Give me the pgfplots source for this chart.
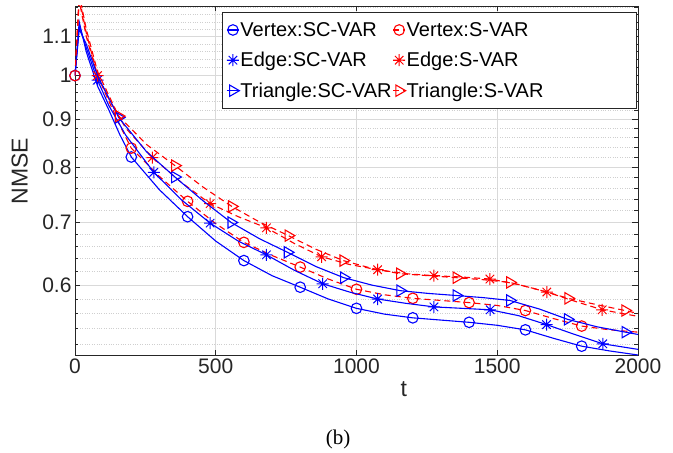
\documentclass[border=0pt]{standalone}
\usepackage{fontspec}
\setmainfont{Liberation Sans}
\newfontfamily\capfont{Liberation Serif}
\usepackage{pgfplots}
\pgfplotsset{compat=1.18}

\definecolor{axcol}{RGB}{38,38,38}
\definecolor{mblue}{RGB}{0,0,255}
\definecolor{mred}{RGB}{255,0,0}

% matlab style asterisk (+ and x)
\pgfdeclareplotmark{mstar}{%
  \pgfpathmoveto{\pgfqpoint{0pt}{\pgfplotmarksize}}%
  \pgfpathlineto{\pgfqpoint{0pt}{-\pgfplotmarksize}}%
  \pgfpathmoveto{\pgfqpoint{\pgfplotmarksize}{0pt}}%
  \pgfpathlineto{\pgfqpoint{-\pgfplotmarksize}{0pt}}%
  \pgfpathmoveto{\pgfqpoint{0.707\pgfplotmarksize}{0.707\pgfplotmarksize}}%
  \pgfpathlineto{\pgfqpoint{-0.707\pgfplotmarksize}{-0.707\pgfplotmarksize}}%
  \pgfpathmoveto{\pgfqpoint{-0.707\pgfplotmarksize}{0.707\pgfplotmarksize}}%
  \pgfpathlineto{\pgfqpoint{0.707\pgfplotmarksize}{-0.707\pgfplotmarksize}}%
  \pgfusepathqstroke}

\begin{document}
\begin{tikzpicture}
\path[use as bounding box] (-75pt,-98pt) rectangle (598pt,355pt);
\begin{axis}[
  at={(0,0)}, anchor=south west,
  scale only axis, width=563pt, height=349pt,
  xmin=0, xmax=2000, ymin=0.506, ymax=1.185,
  ymode=log,
  xtick={0,500,1000,1500,2000}, xticklabels={0,500,1000,1500,2000},
  ytick={0.6,0.7,0.8,0.9,1,1.1}, yticklabels={0.6,0.7,0.8,0.9,1,1.1},
  minor ytick={0.52,0.54,0.56,0.58,0.62,0.64,0.66,0.68,0.72,0.74,0.76,0.78,0.82,0.84,0.86,0.88,0.92,0.94,0.96,0.98,1.02,1.04,1.06,1.08,1.12,1.14,1.16,1.18},
  minor x tick num=0,
  tick align=inside, tick pos=both,
  major tick length=5.5pt, minor tick length=3.5pt,
  every tick/.style={axcol, line width=0.5pt},
  axis line style={axcol, line width=0.6pt},
  xmajorgrids, ymajorgrids, yminorgrids,
  major grid style={gray!30, line width=0.5pt},
  minor grid style={gray!38, dotted, line width=0.5pt},
  tick label style={font=\fontsize{21}{25}\selectfont, text=axcol},
  xlabel={t}, ylabel={NMSE},
  xlabel style={at={(axis description cs:0.584,-0.097)}, anchor=center, font=\fontsize{23}{27}\selectfont, text=axcol},
  ylabel style={at={(axis description cs:-0.098,0.527)}, anchor=center, font=\fontsize{23}{27}\selectfont, text=axcol},
  clip mode=individual,
  legend columns=2, legend cell align=left,
  legend style={at={(rel axis cs:1,1)}, anchor=north east, xshift=-1pt, yshift=-6pt,
    draw=axcol, line width=0.5pt, fill=white, font=\fontsize{20}{24}\selectfont,
    inner xsep=4pt, inner ysep=8pt, row sep=10.5pt,
    nodes={inner xsep=1pt}},
  legend image code/.code={\draw[#1, mark indices={2}] plot coordinates {(-6pt,0pt) (0pt,0pt) (6pt,0pt)};},
]
% Vertex SC-VAR
\addplot[mblue, line width=1.1pt, mark=o, mark size=5.3pt, mark indices={1,7,9,11,13,15,17,19,21,23}] coordinates {
(0,1.0) (15,1.14) (40,1.06) (80,0.975) (120,0.92) (160,0.865) (200,0.820) (300,0.757) (400,0.709) (500,0.668) (600,0.637) (700,0.614) (800,0.597) (900,0.580) (1000,0.567) (1100,0.559) (1200,0.554) (1300,0.551) (1400,0.548) (1500,0.544) (1600,0.538) (1700,0.527) (1800,0.517) (1900,0.511) (2000,0.506)};
\addlegendentry{Vertex:SC-VAR}
% Vertex S-VAR (the point above ymax is not counted by mark indices)
\addplot[mred, line width=1.1pt, dash pattern=on 6pt off 4pt, mark=o, mark size=5.3pt, mark options={solid}, mark indices={1,6,8,10,12,14,16,18,20,22}] coordinates {
(0,1.0) (15,1.20) (40,1.10) (80,1.0) (120,0.94) (160,0.885) (200,0.838) (300,0.782) (400,0.736) (500,0.697) (600,0.666) (700,0.645) (800,0.627) (900,0.609) (1000,0.594) (1100,0.586) (1200,0.581) (1300,0.578) (1400,0.575) (1500,0.571) (1600,0.564) (1700,0.553) (1800,0.543) (1900,0.538) (2000,0.535)};
\addlegendentry{\makebox[225pt][l]{Vertex:S-VAR}}
% Edge SC-VAR
\addplot[mblue, line width=1.1pt, mark=mstar, mark size=6pt, mark options={line width=1pt}, mark indices={4,7,9,11,13,15,17,19,21,23}] coordinates {
(0,1.0) (15,1.13) (40,1.07) (80,0.989) (120,0.93) (180,0.865) (280,0.790) (380,0.738) (480,0.698) (580,0.668) (680,0.646) (780,0.622) (880,0.602) (975,0.590) (1075,0.580) (1175,0.574) (1275,0.569) (1375,0.567) (1475,0.565) (1575,0.557) (1675,0.545) (1775,0.532) (1875,0.520) (2000,0.513)};
\addlegendentry{Edge:SC-VAR}
% Edge S-VAR
\addplot[mred, line width=1.1pt, dash pattern=on 6pt off 4pt, mark=mstar, mark size=6pt, mark options={solid, line width=1pt}, mark indices={3,6,8,10,12,14,16,18,20,22}] coordinates {
(0,1.0) (15,1.21) (40,1.11) (80,1.0) (120,0.945) (180,0.880) (275,0.819) (380,0.770) (480,0.732) (580,0.709) (680,0.690) (780,0.664) (876,0.643) (975,0.631) (1075,0.623) (1175,0.617) (1275,0.614) (1375,0.612) (1474,0.609) (1575,0.601) (1676,0.590) (1775,0.577) (1873,0.565) (2000,0.556)};
\addlegendentry{Edge:S-VAR}
% Triangle SC-VAR
\addplot[mblue, line width=1.1pt, mark=triangle, mark size=6.5pt, mark options={rotate=-90}, mark indices={5,7,9,11,13,15,17,19,21,23}] coordinates {
(0,1.0) (15,1.12) (40,1.08) (80,1.0) (155,0.903) (255,0.830) (355,0.781) (455,0.737) (555,0.699) (655,0.672) (755,0.650) (855,0.628) (955,0.611) (1055,0.600) (1155,0.592) (1255,0.588) (1355,0.585) (1450,0.582) (1545,0.578) (1650,0.566) (1750,0.552) (1855,0.542) (1955,0.535) (2000,0.532)};
\addlegendentry{Triangle:SC-VAR}
% Triangle S-VAR
\addplot[mred, line width=1.1pt, dash pattern=on 6pt off 4pt, mark=triangle, mark size=6.5pt, mark options={solid, rotate=-90}, mark indices={4,6,8,10,12,14,16,18,20,22}] coordinates {
(0,1.0) (15,1.22) (40,1.12) (80,1.01) (155,0.906) (255,0.845) (355,0.803) (455,0.762) (557,0.727) (655,0.700) (758,0.677) (855,0.655) (953,0.637) (1055,0.625) (1154,0.617) (1255,0.614) (1355,0.611) (1450,0.608) (1545,0.604) (1650,0.593) (1752,0.581) (1855,0.572) (1954,0.564) (2000,0.560)};
\addlegendentry{Triangle:S-VAR}
\end{axis}
\node[font=\capfont\fontsize{21}{25}\selectfont, text=black] at (263pt,-84pt) {(b)};
\end{tikzpicture}
\end{document}
